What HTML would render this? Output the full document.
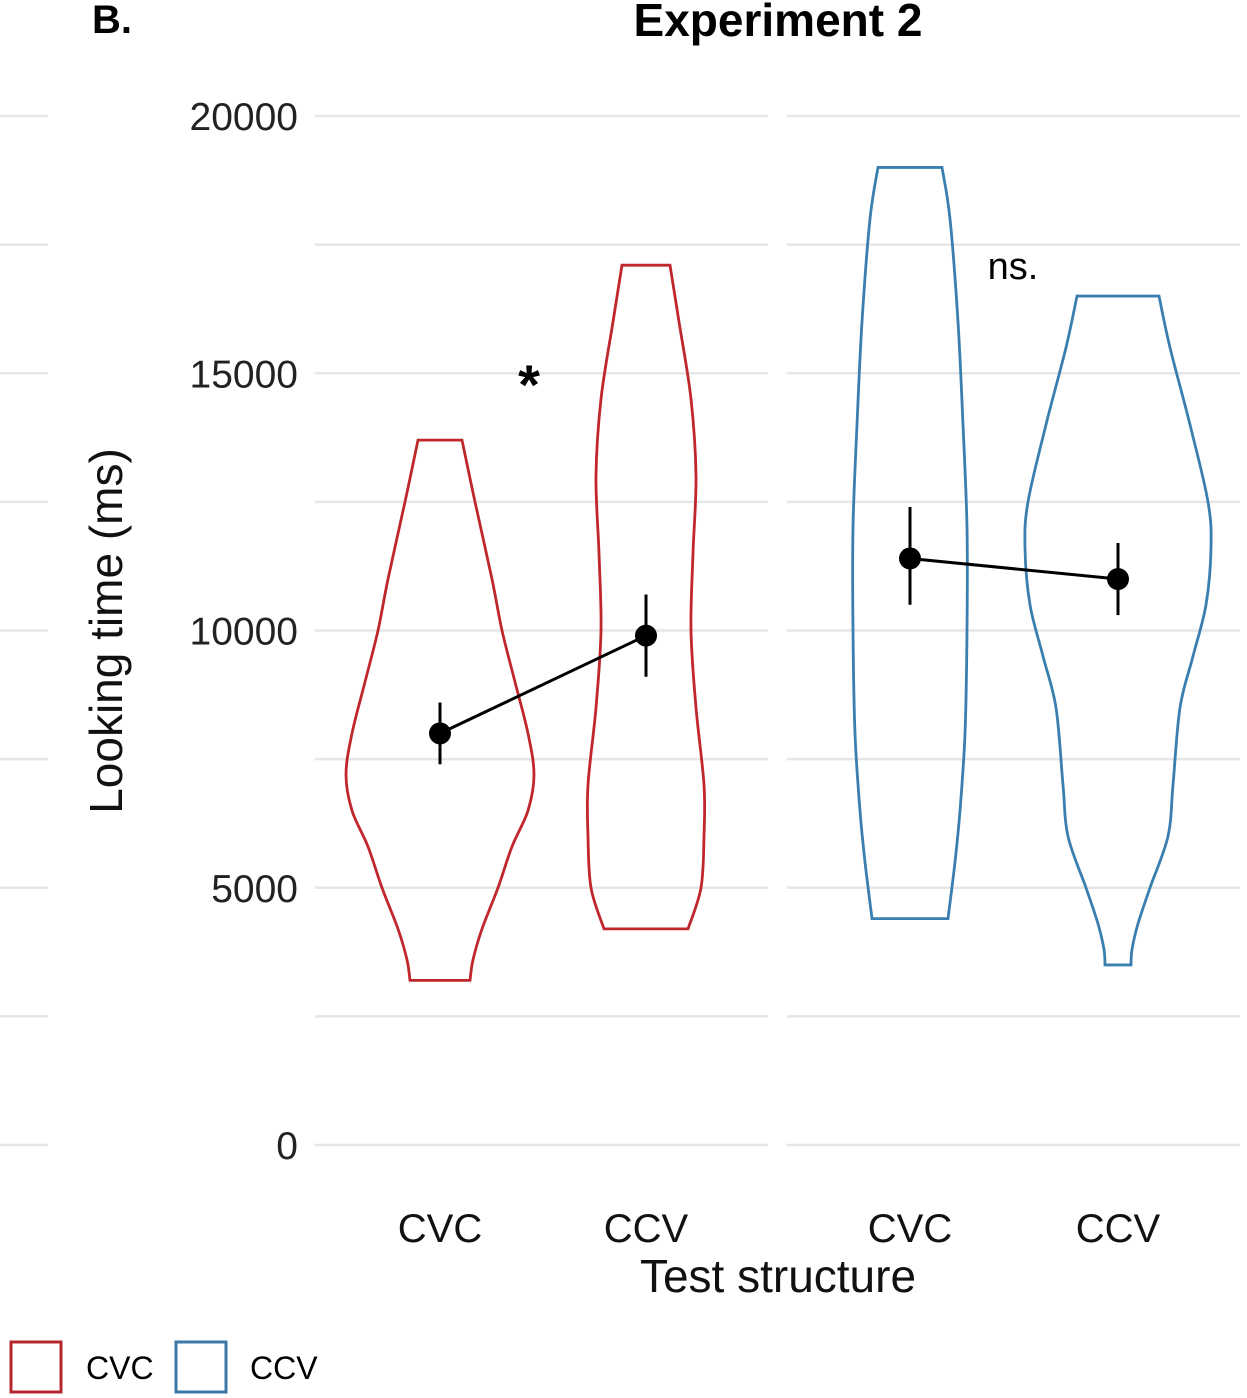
<!DOCTYPE html>
<html><head><meta charset="utf-8"><style>
html,body{margin:0;padding:0;background:#fff;}
svg{display:block;font-family:"Liberation Sans",sans-serif;}
</style></head><body>
<svg id="chart" width="1247" height="1398" viewBox="0 0 1247 1398">
<text x="92" y="33" font-size="40" font-weight="bold">B.</text>
<text x="778" y="36" font-size="46" font-weight="bold" text-anchor="middle">Experiment 2</text>
<g id="grid"></g>
<g id="yticks"></g>
<text transform="translate(122,631) rotate(-90)" font-size="46" text-anchor="middle" fill="#111">Looking time (ms)</text>
<g id="marks"></g>
<text x="529" y="404" font-size="56" font-weight="bold" text-anchor="middle">*</text>
<text x="1013" y="279" font-size="38" text-anchor="middle">ns.</text>
<text x="778" y="1292" font-size="46" text-anchor="middle" fill="#111">Test structure</text>
<g>
<rect x="11" y="1342" width="50" height="50" fill="none" stroke="#b5272d" stroke-width="3"/>
<text x="86" y="1379" font-size="32">CVC</text>
<rect x="176" y="1342" width="50" height="50" fill="none" stroke="#3a78a8" stroke-width="3"/>
<text x="250" y="1379" font-size="32">CCV</text>
</g>
</svg>
<script>
const yTicks=[0,5000,10000,15000,20000];
const gridVals=[0,2500,5000,7500,10000,12500,15000,17500,20000];
const xLabels=["CVC","CCV","CVC","CCV"];
const groupX=[440,646,910,1118];
const colors=["#c0272d","#c0272d","#3a7fb0","#3a7fb0"];
// violin profiles: [value, half-width px]
const v0=[[13700,22],[12500,35],[11000,52],[10000,62],[9000,75],[8000,88],[7200,94],[6500,88],[5800,72],[5000,58],[4200,42],[3600,33],[3200,30]];
const v1=[[17100,24],[16000,33],[14500,45],[13000,50],[11500,47],[10000,45],[8500,50],[7000,58],[6000,58],[5000,55],[4200,42]];
const v2=[[19000,32],[18000,40],[16000,48],[14000,53],[12000,57],[10000,57],[8000,55],[6500,50],[5500,45],[4400,38]];
const v3=[[16500,41],[15500,52],[14000,72],[12500,90],[11600,93],[10500,88],[9500,75],[8500,62],[7000,55],[6000,50],[5000,32],[4300,20],[3800,14],[3500,13]];
const violins=[v0,v1,v2,v3];
const means=[8000,9900,11400,11000];
const errLo=[7400,9100,10500,10300];
const errHi=[8600,10700,12400,11700];

const NS="http://www.w3.org/2000/svg";
const y=v=>1145-v*(1029/20000);
function mk(parent,tag,attrs){const e=document.createElementNS(NS,tag);for(const k in attrs)e.setAttribute(k,attrs[k]);parent.appendChild(e);return e;}
const grid=document.getElementById('grid'),yt=document.getElementById('yticks'),marks=document.getElementById('marks');
const panels=[[0,48],[315,768],[787,1240]];
gridVals.forEach(g=>{panels.forEach(p=>{
  const l=mk(grid,'line',{x1:p[0],x2:p[1],y1:y(g),y2:y(g),stroke:"#e6e6e6","stroke-width":2.5});
  
  
});});
yTicks.forEach(t=>{
  const e=mk(yt,'text',{x:298,y:y(t)+14,"font-size":39,"text-anchor":"end",fill:"#222"});
  e.textContent=t;
  
  
});
xLabels.forEach((l,i)=>{
  const e=mk(marks,'text',{x:groupX[i],y:1242,"font-size":40,"text-anchor":"middle",fill:"#111"});
  e.textContent=l;
  
  
});
function spline(pts){let d="M"+pts[0][0]+","+pts[0][1];
  for(let i=0;i<pts.length-1;i++){const p0=pts[Math.max(0,i-1)],p1=pts[i],p2=pts[i+1],p3=pts[Math.min(pts.length-1,i+2)];
    d+=" C"+(p1[0]+(p2[0]-p0[0])/6)+","+(p1[1]+(p2[1]-p0[1])/6)+" "+(p2[0]-(p3[0]-p1[0])/6)+","+(p2[1]-(p3[1]-p1[1])/6)+" "+p2[0]+","+p2[1];}
  return d;}
violins.forEach((v,i)=>{
  const cx=groupX[i];
  const right=v.map(p=>[cx+p[1],y(p[0])]);
  const left=v.map(p=>[cx-p[1],y(p[0])]).reverse();
  let d=spline(right)+" L"+left[0][0]+","+left[0][1]+" "+spline(left).slice(1).replace(/^[^C]*/,'')+" Z";
  const e=mk(marks,'path',{d:d,fill:"none",stroke:colors[i],"stroke-width":2.8});
  
  
});
[[0,1],[2,3]].forEach(([a,b])=>{
  const l=mk(marks,'line',{x1:groupX[a],y1:y(means[a]),x2:groupX[b],y2:y(means[b]),stroke:"#000","stroke-width":3});
  
  
});
means.forEach((m,i)=>{
  const l=mk(marks,'line',{x1:groupX[i],x2:groupX[i],y1:y(errLo[i]),y2:y(errHi[i]),stroke:"#000","stroke-width":3});
  
  
  const c=mk(marks,'circle',{cx:groupX[i],cy:y(m),r:11,fill:"#000"});
  
  
});
</script>
</body></html>
